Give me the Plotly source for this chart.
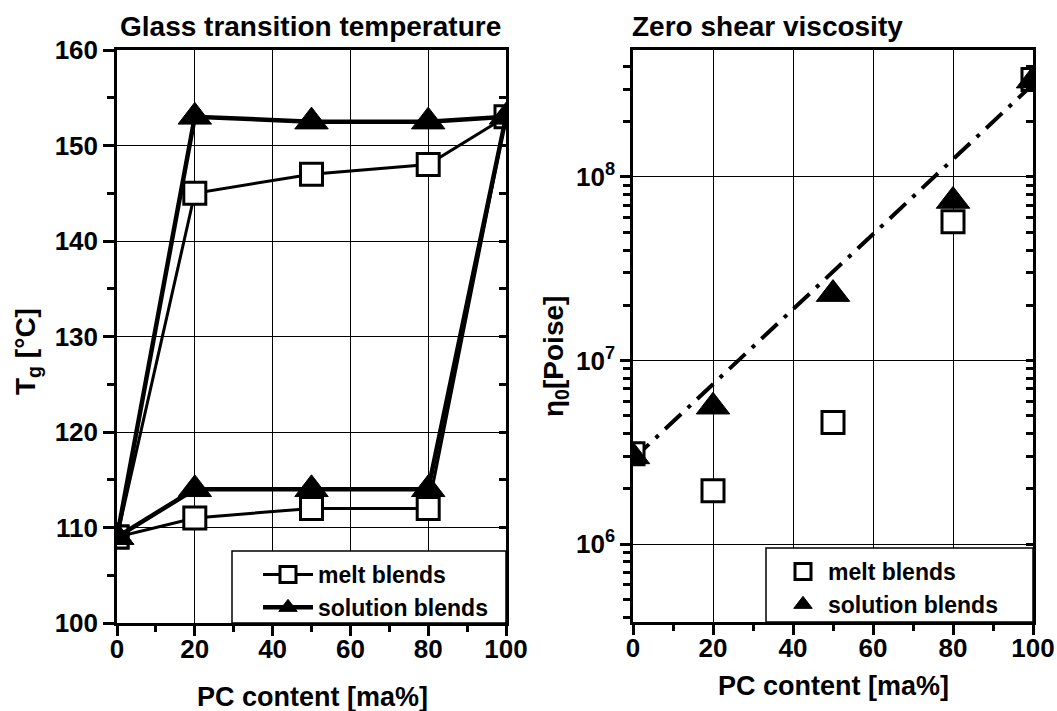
import plotly.graph_objects as go

# ---------------- data ----------------
pc = [0, 20, 50, 80, 100]
# glass transition temperatures (two Tg per blend: low / high branch)
melt_tg_low = [109, 111, 112, 112, 153]
melt_tg_high = [109, 145, 147, 148, 153]
sol_tg_low = [109, 114, 114, 114, 153]
sol_tg_high = [109, 153, 152.5, 152.5, 153]

# zero shear viscosity [Poise]
melt_eta = [3.1e6, 1.95e6, 4.6e6, 5.7e7, 3.4e8]
sol_eta = [3.0e6, 5.6e6, 2.3e7, 7.4e7, 3.35e8]
fit_pc = [0, 100]
fit_eta = [2.9e6, 3.2e8]

tg_ticks = [100, 110, 120, 130, 140, 150, 160]
pc_ticks = [0, 20, 40, 60, 80, 100]
eta_ticks = [1e6, 1e7, 1e8]
eta_ticktext = ["10<sup>6</sup>", "10<sup>7</sup>", "10<sup>8</sup>"]
eta_minor = [m * 10 ** e for e in range(5, 9) for m in range(2, 10)]

# ---------------- layout helpers ----------------
W, H = 1057, 711
def px(x):
    return x / W
def py(y):
    return 1 - y / H

FONT = "Liberation Sans, Arial, Helvetica, sans-serif"
def f(size):
    return dict(family=FONT, size=size, color="black", weight="bold")

L = dict(x0=117, x1=506, y0=50, y1=623)
R = dict(x0=633, x1=1033, y0=50, y1=622)

loop_x = pc + pc[-2::-1]
melt_loop = melt_tg_low + melt_tg_high[-2::-1]
sol_loop = sol_tg_low + sol_tg_high[-2::-1]

square = dict(symbol="square", size=22, color="white", line=dict(color="black", width=3))
tri = dict(symbol="triangle-up", size=29, color="black", line=dict(color="black", width=1))

fig = go.Figure()
fig.add_trace(go.Scatter(x=loop_x, y=melt_loop, mode="lines+markers", name="melt blends",
                         line=dict(color="black", width=3), marker=square,
                         xaxis="x", yaxis="y", legend="legend"))
fig.add_trace(go.Scatter(x=loop_x, y=sol_loop, mode="lines+markers", name="solution blends",
                         line=dict(color="black", width=4.5), marker=tri,
                         xaxis="x", yaxis="y", legend="legend"))

fig.add_trace(go.Scatter(x=fit_pc, y=fit_eta, mode="lines", showlegend=False,
                         line=dict(color="black", width=4, dash="22px,9px,4px,9px"),
                         xaxis="x2", yaxis="y2"))
fig.add_trace(go.Scatter(x=pc, y=melt_eta, mode="markers", name="melt blends",
                         marker=square, xaxis="x2", yaxis="y2", legend="legend2"))
fig.add_trace(go.Scatter(x=pc, y=sol_eta, mode="markers", name="solution blends",
                         marker=tri, xaxis="x2", yaxis="y2", legend="legend2"))

# invisible traces to register the mirrored inner-tick axes
fig.add_trace(go.Scatter(x=[], y=[], xaxis="x", yaxis="y3", showlegend=False))
fig.add_trace(go.Scatter(x=[], y=[], xaxis="x2", yaxis="y4", showlegend=False))

axis_common = dict(showline=True, linecolor="black", linewidth=2.5, mirror=True,
                   gridcolor="black", gridwidth=1.2, zeroline=False,
                   tickcolor="black", tickwidth=2.5, ticks="outside",
                   tickfont=f(26), ticklabeloverflow="allow")

xminor = dict(dtick=10, ticks="outside", ticklen=6, tickwidth=2.5, tickcolor="black", showgrid=False)

fig.update_layout(
    width=W, height=H, autosize=False,
    margin=dict(l=0, r=0, t=0, b=0),
    paper_bgcolor="white", plot_bgcolor="white",
    xaxis=dict(domain=[px(L["x0"]), px(L["x1"])], anchor="y", range=[0, 100],
               tickmode="array", tickvals=pc_ticks, ticklen=10, ticklabelstandoff=-9,
               minor=xminor, automargin=False, **axis_common),
    yaxis=dict(domain=[py(L["y1"]), py(L["y0"])], anchor="x", range=[100, 160],
               tickmode="array", tickvals=tg_ticks, ticklen=11,
               minor=dict(dtick=5, ticks="outside", ticklen=7, tickwidth=2.5, tickcolor="black", showgrid=False),
               automargin=False, **axis_common),
    yaxis3=dict(overlaying="y", anchor="x", side="right", range=[100, 160],
                showgrid=False, zeroline=False, showline=False, showticklabels=False,
                tickmode="array", tickvals=tg_ticks, ticks="inside", ticklen=7,
                tickcolor="black", tickwidth=2.5,
                minor=dict(dtick=5, ticks="inside", ticklen=7, tickwidth=2.5, tickcolor="black", showgrid=False)),
    xaxis2=dict(domain=[px(R["x0"]), px(R["x1"])], anchor="y2", range=[0, 100],
                tickmode="array", tickvals=pc_ticks, ticklen=10, ticklabelstandoff=-9,
                minor=xminor, automargin=False, **axis_common),
    yaxis2=dict(domain=[py(R["y1"]), py(R["y0"])], anchor="x2", type="log", range=[5.575, 8.692],
                tickmode="array", tickvals=eta_ticks, ticktext=eta_ticktext, ticklen=10,
                minor=dict(tickmode="array", tickvals=eta_minor, ticks="outside", ticklen=7,
                           tickwidth=2.5, tickcolor="black", showgrid=False),
                automargin=False, **axis_common),
    yaxis4=dict(overlaying="y2", anchor="x2", side="right", type="log", range=[5.575, 8.692],
                showgrid=False, zeroline=False, showline=False, showticklabels=False,
                tickmode="array", tickvals=eta_ticks, ticks="inside", ticklen=7,
                tickcolor="black", tickwidth=2.5,
                minor=dict(tickmode="array", tickvals=eta_minor, ticks="inside", ticklen=7,
                           tickwidth=2.5, tickcolor="black", showgrid=False)),
    legend=dict(x=px(258), y=py(553), xanchor="left", yanchor="top",
                bgcolor="rgba(0,0,0,0)", borderwidth=0, font=f(23),
                tracegroupgap=0, itemsizing="trace", itemwidth=50),
    legend2=dict(x=px(778), y=py(550), xanchor="left", yanchor="top",
                 bgcolor="rgba(0,0,0,0)", borderwidth=0, font=f(23),
                 tracegroupgap=0, itemsizing="trace", itemwidth=40),
    shapes=[
        dict(type="rect", xref="paper", yref="paper", layer="above",
             x0=px(232), x1=px(L["x1"]), y0=py(L["y1"]), y1=py(551),
             fillcolor="white", line=dict(color="black", width=1.5)),
        dict(type="rect", xref="paper", yref="paper", layer="above",
             x0=px(766), x1=px(R["x1"]), y0=py(R["y1"]), y1=py(548),
             fillcolor="white", line=dict(color="black", width=1.5)),
    ],
    annotations=[
        dict(text="Glass transition temperature", x=px(118), y=py(27), xref="paper", yref="paper",
             xanchor="left", yanchor="middle", showarrow=False, font=f(28)),
        dict(text="Zero shear viscosity", x=px(630), y=py(27), xref="paper", yref="paper",
             xanchor="left", yanchor="middle", showarrow=False, font=f(28)),
        dict(text="PC content [ma%]", x=px(312), y=py(697), xref="paper", yref="paper",
             xanchor="center", yanchor="middle", showarrow=False, font=f(27)),
        dict(text="PC content [ma%]", x=px(833), y=py(686), xref="paper", yref="paper",
             xanchor="center", yanchor="middle", showarrow=False, font=f(27)),
        dict(text="T<sub>g</sub> [°C]", x=px(27), y=py(352), xref="paper", yref="paper",
             xanchor="center", yanchor="middle", showarrow=False, textangle=-90, font=f(28)),
        dict(text="η<sub>0</sub>[Poise]", x=px(555), y=py(357), xref="paper", yref="paper",
             xanchor="center", yanchor="middle", showarrow=False, textangle=-90, font=f(28)),
    ],
)

fig.write_html("out.html")
